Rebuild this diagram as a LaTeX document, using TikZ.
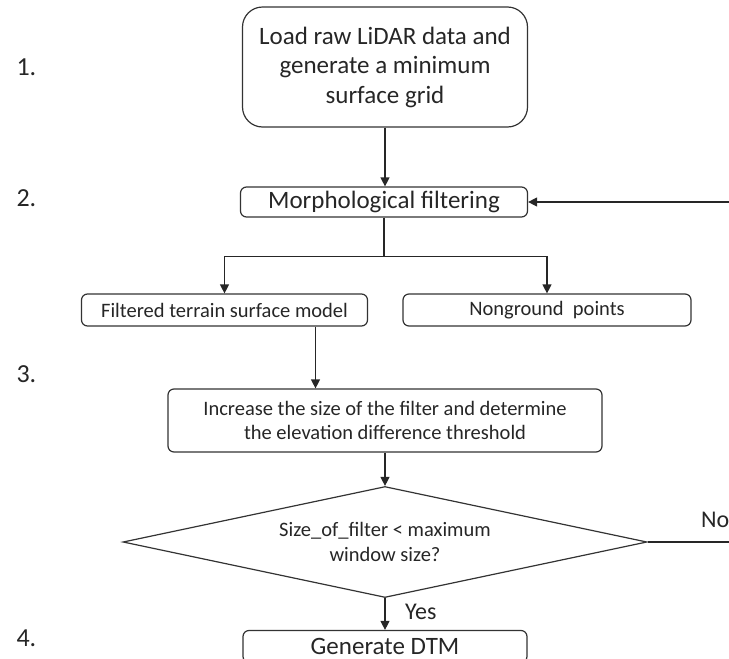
\documentclass[tikz,border=0pt]{standalone}
\usepackage{fontspec}
\setmainfont{Carlito}
\usetikzlibrary{shapes.geometric,arrows.meta}
\begin{document}
\begin{tikzpicture}[x=1pt,y=-1pt,
  box/.style={draw=black!80, line width=1.2pt, rounded corners=6pt, inner sep=0pt,
              align=center, text=black!85},
  bigtxt/.style={font=\fontsize{25}{29.5}\selectfont},
  smalltxt/.style={font=\fontsize{20.5}{24.5}\selectfont},
  conn/.style={draw=black!85, line width=1.2pt},
  arr/.style={conn, -{Triangle[length=9pt,width=9pt]}},
  stepno/.style={font=\fontsize{26}{30}\selectfont, anchor=west, text=black!85},
  lbl/.style={font=\fontsize{24}{27}\selectfont, anchor=west, inner sep=0pt, text=black!85}]
\useasboundingbox (0,0) rectangle (729,659);
\clip (0,0) rectangle (729,659);

% step numbers
\node[stepno] (s1) at (13,67)  {1.};
\node[stepno] (s2) at (13,198) {2.};
\node[stepno] (s3) at (13,374) {3.};
\node[stepno] (s4) at (13,638) {4.};

% process boxes
\node[box, bigtxt, rounded corners=20pt, minimum width=285pt, minimum height=120pt]
  (load) at (385,67) {Load raw LiDAR data and\\generate a minimum\\surface grid};
\node[box, bigtxt, minimum width=287pt, minimum height=30pt]
  (morph) at (384,202) {Morphological filtering};
\node[box, smalltxt, minimum width=286pt, minimum height=32pt]
  (filt) at (224.5,310) {Filtered terrain surface model};
\node[box, smalltxt, minimum width=288pt, minimum height=32pt]
  (nong) at (547,310) {Nonground\ \ points};
\node[box, smalltxt, minimum width=434pt, minimum height=63pt]
  (inc) at (385,420.5) {Increase the size of the filter and determine\\the elevation difference threshold};
\node[draw=black!80, line width=1.2pt, diamond, aspect=4.7, inner sep=0pt,
      minimum width=524pt, minimum height=111pt, align=center, text=black!85, smalltxt]
  (dec) at (385,542) {Size\_of\_filter < maximum\\window size?};
\node[box, bigtxt, minimum width=284pt, minimum height=32pt]
  (dtm) at (385,646.5) {Generate DTM};

% branch labels
\node[lbl] (yes) at (405,612) {Yes};
\node[lbl] (no)  at (701,520) {No};

% connectors
\draw[arr] (load.south) -- (load.south |- morph.north);
\coordinate (split) at ([yshift=-39pt]morph.south);
\draw[conn] (morph.south) -- (split);
\draw[arr] (split) -| (filt.north);
\draw[arr] (split) -| (nong.north);
\coordinate (drop) at ([xshift=91pt]filt.south);
\draw[arr] (drop) -- (drop |- inc.north);
\draw[arr] (inc.south) -- (dec.north);
\draw[arr] (dec.south) -- (dtm.north);
\coordinate (loop) at ([xshift=120pt]dec.east);
\draw[arr] (dec.east) -- (loop) |- (morph.east);
\end{tikzpicture}
\end{document}
